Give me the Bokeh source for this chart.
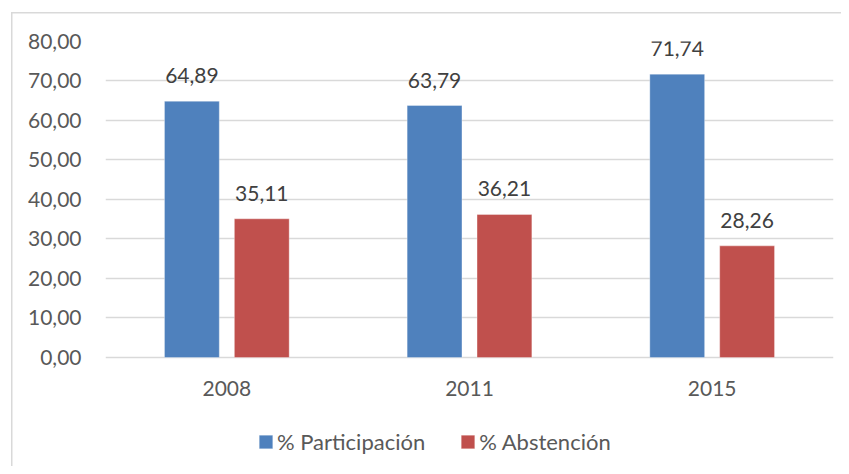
from bokeh.plotting import figure
from bokeh.models import (FactorRange, ColumnDataSource, LabelSet, Legend, LegendItem,
                          FixedTicker, Range1d)
from bokeh.core.properties import value
from bokeh.transform import dodge
from bokeh.embed import file_html
from bokeh.resources import INLINE

years = ["2008", "2011", "2015"]
participacion = [64.89, 63.79, 71.74]
abstencion = [35.11, 36.21, 28.26]
y_ticks = [0, 10, 20, 30, 40, 50, 60, 70, 80]
series_names = ["% Participación", "% Abstención"]
colors = ["#4F81BD", "#C0504D"]

FONT = "Lato"


def fmt(v):
    return f"{v:.2f}".replace(".", ",")


src = ColumnDataSource(dict(
    year=years,
    zero=[0] * len(years),
    part=participacion,
    abst=abstencion,
    part_lbl=[fmt(v) for v in participacion],
    abst_lbl=[fmt(v) for v in abstencion],
))

# frame extends below the zero line so the legend (drawn inside the frame) is not clipped
p = figure(width=841, height=466,
           x_range=FactorRange(*years), y_range=Range1d(-27.6, 80),
           output_backend="svg", toolbar_location=None,
           min_border_left=105, min_border_right=8, min_border_top=41, min_border_bottom=0)

# light chart-area border (drawn as page background behind a transparent canvas)
p.border_fill_alpha = 0
p.background_fill_alpha = 0
p.styles = {"background": "linear-gradient(#d9d9d9,#d9d9d9) 11px 12px / 1.5px 100% no-repeat, "
                          "linear-gradient(#d9d9d9,#d9d9d9) 11px 12px / 100% 1.5px no-repeat, white"}

off = 0.144
bw = 0.226
r1 = p.vbar(x=dodge("year", -off, range=p.x_range), top="part", width=bw, source=src,
            fill_color=colors[0], line_color="white", line_alpha=0.35)
r2 = p.vbar(x=dodge("year", off, range=p.x_range), top="abst", width=bw, source=src,
            fill_color=colors[1], line_color="white", line_alpha=0.35)

for col, lbl, d in (("part", "part_lbl", -off), ("abst", "abst_lbl", off)):
    ls = LabelSet(x=dodge("year", d, range=p.x_range), y=col, text=lbl, source=src,
                  y_offset=18, text_align="center", text_baseline="alphabetic",
                  text_font=value(FONT), text_font_size="21px", text_color="#404040")
    p.add_layout(ls)

# category labels under the zero line
cat = LabelSet(x="year", y="zero", text="year", source=src, y_offset=-31,
               text_align="center", text_baseline="middle",
               text_font=value(FONT), text_font_size="21px", text_color="#595959")
p.add_layout(cat)

p.outline_line_color = None
p.xgrid.visible = False
p.ygrid.ticker = FixedTicker(ticks=y_ticks)
p.ygrid.grid_line_color = "#d9d9d9"
p.ygrid.grid_line_width = 1.5

p.xaxis.visible = False
p.yaxis.ticker = FixedTicker(ticks=y_ticks)
p.yaxis.major_label_overrides = {t: fmt(t) for t in y_ticks}
ax = p.yaxis[0]
ax.axis_line_color = None
ax.major_tick_line_color = None
ax.minor_tick_line_color = None
ax.major_label_text_font = FONT
ax.major_label_text_font_size = "21px"
ax.major_label_text_color = "#595959"
ax.major_label_standoff = 18

legend = Legend(items=[LegendItem(label=series_names[0], renderers=[r1]),
                       LegendItem(label=series_names[1], renderers=[r2])],
                orientation="horizontal", location=(152, 11),
                glyph_width=17, glyph_height=17, label_standoff=3, spacing=34,
                padding=0, margin=0, border_line_color=None, background_fill_alpha=0,
                label_text_font=FONT, label_text_font_size="22px", label_text_color="#595959")
p.add_layout(legend, "center")

open("out.html", "w").write(file_html(p, INLINE))
